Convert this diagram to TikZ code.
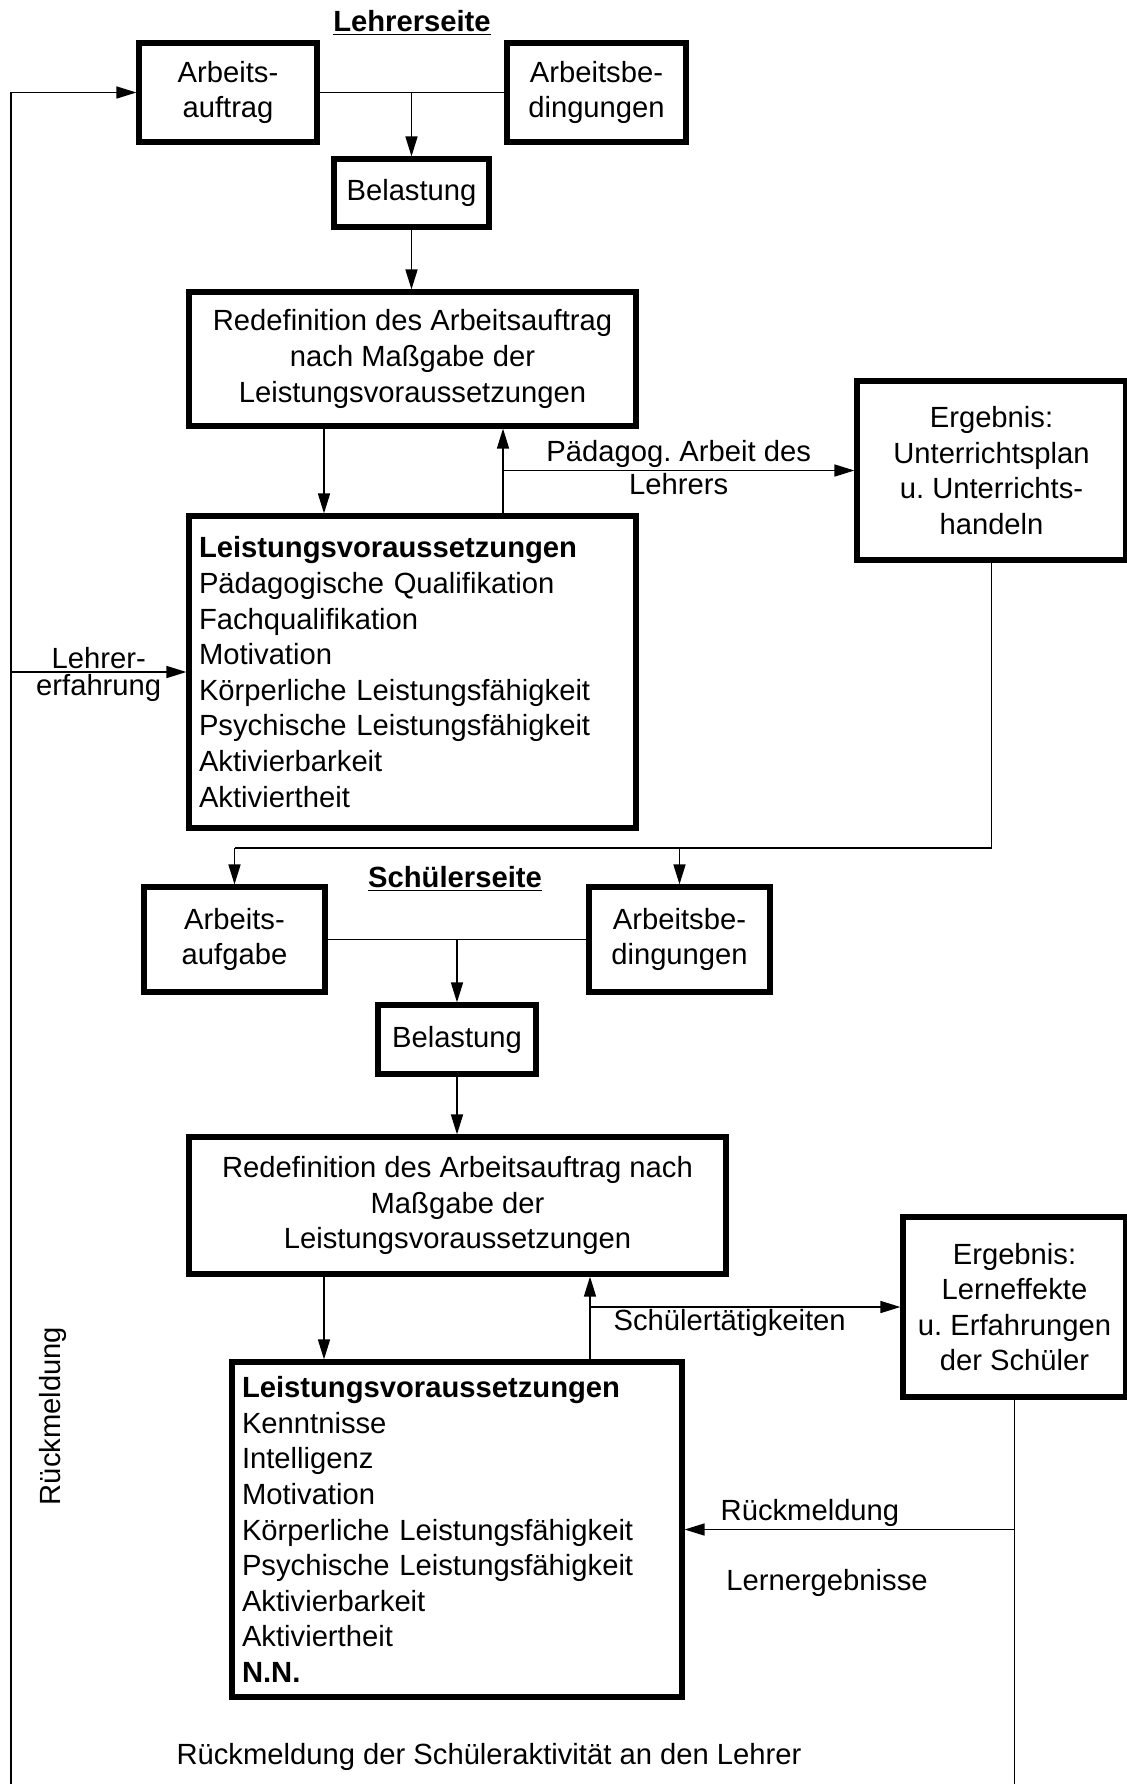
\documentclass[tikz,border=0pt]{standalone}
\usepackage{fontspec}
\setmainfont{Liberation Sans}
\usetikzlibrary{arrows.meta}
\frenchspacing

\tikzset{
  box/.style={draw, line width=2.6pt, align=center, inner sep=0pt},
  listbox/.style={draw, line width=2.6pt, align=left, inner xsep=5pt, inner ysep=0pt},
  conn/.style={line width=0.8pt},
  arr/.style={conn, -{Triangle[length=10pt,width=6pt]}},
  lbl/.style={inner sep=1pt}
}

\begin{document}
\begin{tikzpicture}[x=0.5pt, y=-0.5pt, font=\fontsize{14.6}{17.8}\selectfont]
        \useasboundingbox (0,0) rectangle (1127,1784);
        \clip (0,0) rectangle (1127,1784);

        % Lehrerseite
        \node[lbl] (tL) at (412,23) {\underline{\textbf{Lehrerseite}}};
        \node[box, minimum width=89pt, minimum height=49.5pt] (aufL) at (228,92.5) {Arbeits-\\auftrag};
        \node[box, minimum width=89.5pt, minimum height=49.5pt] (bedL) at (596.5,92.5) {Arbeitsbe-\\dingungen};
        \node[box, minimum width=77.5pt, minimum height=34pt] (belL) at (411.5,193) {Belastung};
        \node[box, minimum width=223.5pt, minimum height=67pt] (redL) at (412.5,359) {Redefinition des Arbeitsauftrag\\nach Maßgabe der\\Leistungsvoraussetzungen};
        \node[listbox, text width=213.5pt, minimum height=156pt] (leiL) at (412.5,672) {\textbf{Leistungsvoraussetzungen}\\Pädagogische Qualifikation\\Fachqualifikation\\Motivation\\Körperliche Leistungsfähigkeit\\Psychische Leistungsfähigkeit\\Aktivierbarkeit\\Aktiviertheit};
        \node[box, minimum width=134.5pt, minimum height=89.5pt] (ergL) at (991.5,470.5) {Ergebnis:\\Unterrichtsplan\\u. Unterrichts-\\handeln};

        % Schülerseite
        \node[lbl] (tS) at (455,879) {\underline{\textbf{Schülerseite}}};
        \node[box, minimum width=90.5pt, minimum height=52.5pt] (aufS) at (234.5,939.5) {Arbeits-\\aufgabe};
        \node[box, minimum width=90.5pt, minimum height=52.5pt] (bedS) at (679.5,939.5) {Arbeitsbe-\\dingungen};
        \node[box, minimum width=79pt, minimum height=34.5pt] (belS) at (457,1039.5) {Belastung};
        \node[box, minimum width=268.5pt, minimum height=68.5pt] (redS) at (457.5,1205.5) {Redefinition des Arbeitsauftrag nach\\Maßgabe der\\Leistungsvoraussetzungen};
        \node[listbox, text width=215pt, minimum height=167.5pt] (leiS) at (457,1529.5) {\textbf{Leistungsvoraussetzungen}\\Kenntnisse\\Intelligenz\\Motivation\\Körperliche Leistungsfähigkeit\\Psychische Leistungsfähigkeit\\Aktivierbarkeit\\Aktiviertheit\\\textbf{N.N.}};
        \node[box, minimum width=111.5pt, minimum height=90pt] (ergS) at (1014.5,1307) {Ergebnis:\\Lerneffekte\\u. Erfahrungen\\der Schüler};

        % Hilfspunkte
        \coordinate (xA) at (324,0);
        \coordinate (xU) at (503,0);
        \coordinate (xS) at (590,0);
        \coordinate (xE) at (11,0);
        \coordinate (yJ) at (0,848);
        \coordinate (yB) at (0,1810);

        % Verbindungen Lehrer
        \draw[conn] (aufL.east) -- (bedL.west);
        \draw[arr] (belL.north |- aufL.east) -- (belL.north);
        \draw[arr] (belL.south) -- (belL.south |- redL.north);
        \draw[arr] (xA |- redL.south) -- (xA |- leiL.north);
        \draw[arr] (xU |- leiL.north) -- (xU |- redL.south);
        \draw[arr] (xU |- ergL.west) -- (ergL.west)
            node[lbl, midway, above] (pA) {Pädagog. Arbeit des}
            node[lbl, midway, below] (pB) {Lehrers};
        \draw[arr] (xE |- leiL.west) -- (leiL.west)
            node[lbl, midway, above] (eA) {Lehrer-}
            node[lbl, midway, below] (eB) {erfahrung};
        \draw[conn] (ergL.south) -- (ergL.south |- yJ) -- (aufS.north |- yJ);
        \draw[arr] (aufS.north |- yJ) -- (aufS.north);
        \draw[arr] (bedS.north |- yJ) -- (bedS.north);

        % Verbindungen Schüler
        \draw[conn] (aufS.east) -- (bedS.west);
        \draw[arr] (belS.north |- aufS.east) -- (belS.north);
        \draw[arr] (belS.south) -- (belS.south |- redS.north);
        \draw[arr] (xA |- redS.south) -- (xA |- leiS.north);
        \draw[arr] (xS |- leiS.north) -- (xS |- redS.south);
        \draw[arr] (xS |- ergS.west) -- (ergS.west)
            node[lbl, pos=0.45, below] (sT) {Schülertätigkeiten};

        % Rückmeldung
        \draw[arr] (ergS.south) -- (ergS.south |- yB) -- (xE |- yB) -- (xE |- aufL.west) -- (aufL.west);
        \draw[arr] (ergS.south |- leiS.east) -- (leiS.east)
            node[lbl, pos=0.62, above] (rA) {Rückmeldung};
        \node (rB) at (827,1583) {Lernergebnisse};
        \node[rotate=90] (rC) at (53,1416) {Rückmeldung};
        \node (rD) at (489,1757) {Rückmeldung der Schüleraktivität an den Lehrer};

\end{tikzpicture}
\end{document}
